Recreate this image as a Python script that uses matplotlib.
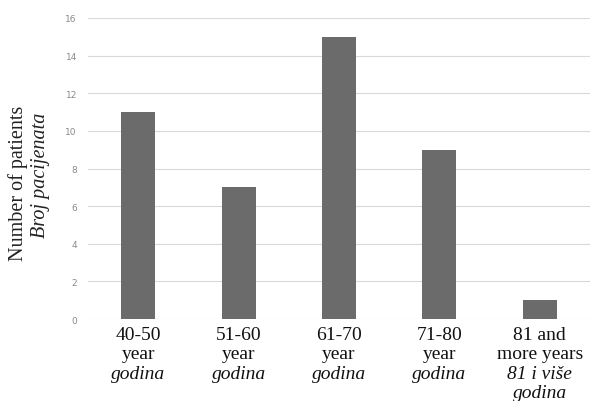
import matplotlib
matplotlib.use("Agg")
import matplotlib.pyplot as plt
from matplotlib.transforms import blended_transform_factory, offset_copy

categories = ["40-50", "51-60", "61-70", "71-80", "81 and"]
line2 = ["year", "year", "year", "year", "more years"]
line3 = ["godina", "godina", "godina", "godina", "81 i više"]
line4 = ["", "", "", "", "godina"]
values = [11, 7, 15, 9, 1]
yticks = [0, 2, 4, 6, 8, 10, 12, 14, 16]

fig = plt.figure(figsize=(5.95, 4.02), dpi=100)
ax = fig.add_axes([88/595, 1-320/402, (590-88)/595, (320-19)/402])

x = list(range(len(categories)))
ax.bar(x, values, width=0.34, color="#6b6b6b", zorder=3)
ax.set_xlim(-0.5, len(categories)-0.5)
ax.set_ylim(0, 16)
ax.set_yticks(yticks)
ax.set_yticklabels([str(t) for t in yticks], fontsize=6.5, color="#8a8a8a",
                   family="DejaVu Sans")
ax.tick_params(axis="y", length=0, pad=8)
ax.set_xticks([])
ax.grid(axis="y", color="#d9d9d9", linewidth=0.8, zorder=0)
for s in ax.spines.values():
    s.set_visible(False)

serif = "Liberation Serif"
tr = blended_transform_factory(ax.transData, ax.transAxes)
for i in x:
    lines = [(categories[i], "normal"), (line2[i], "normal"),
             (line3[i], "italic"), (line4[i], "italic")]
    for k, (t, st) in enumerate(lines):
        if not t:
            continue
        ttr = offset_copy(tr, fig=fig, x=0, y=-11 - 14.0*k, units="points")
        ax.text(i, 0, t, transform=ttr, ha="center", va="center",
                fontsize=14, family=serif, style=st, color="#111111")

fig.text(18/595, 1-183/402, "Number of patients", rotation=90, ha="center",
         va="center", fontsize=14.5, family=serif, color="#222222")
fig.text(40/595, 1-175/402, "Broj pacijenata", rotation=90, ha="center",
         va="center", fontsize=14.5, family=serif, style="italic", color="#222222")

fig.savefig("out.png", dpi=100)
